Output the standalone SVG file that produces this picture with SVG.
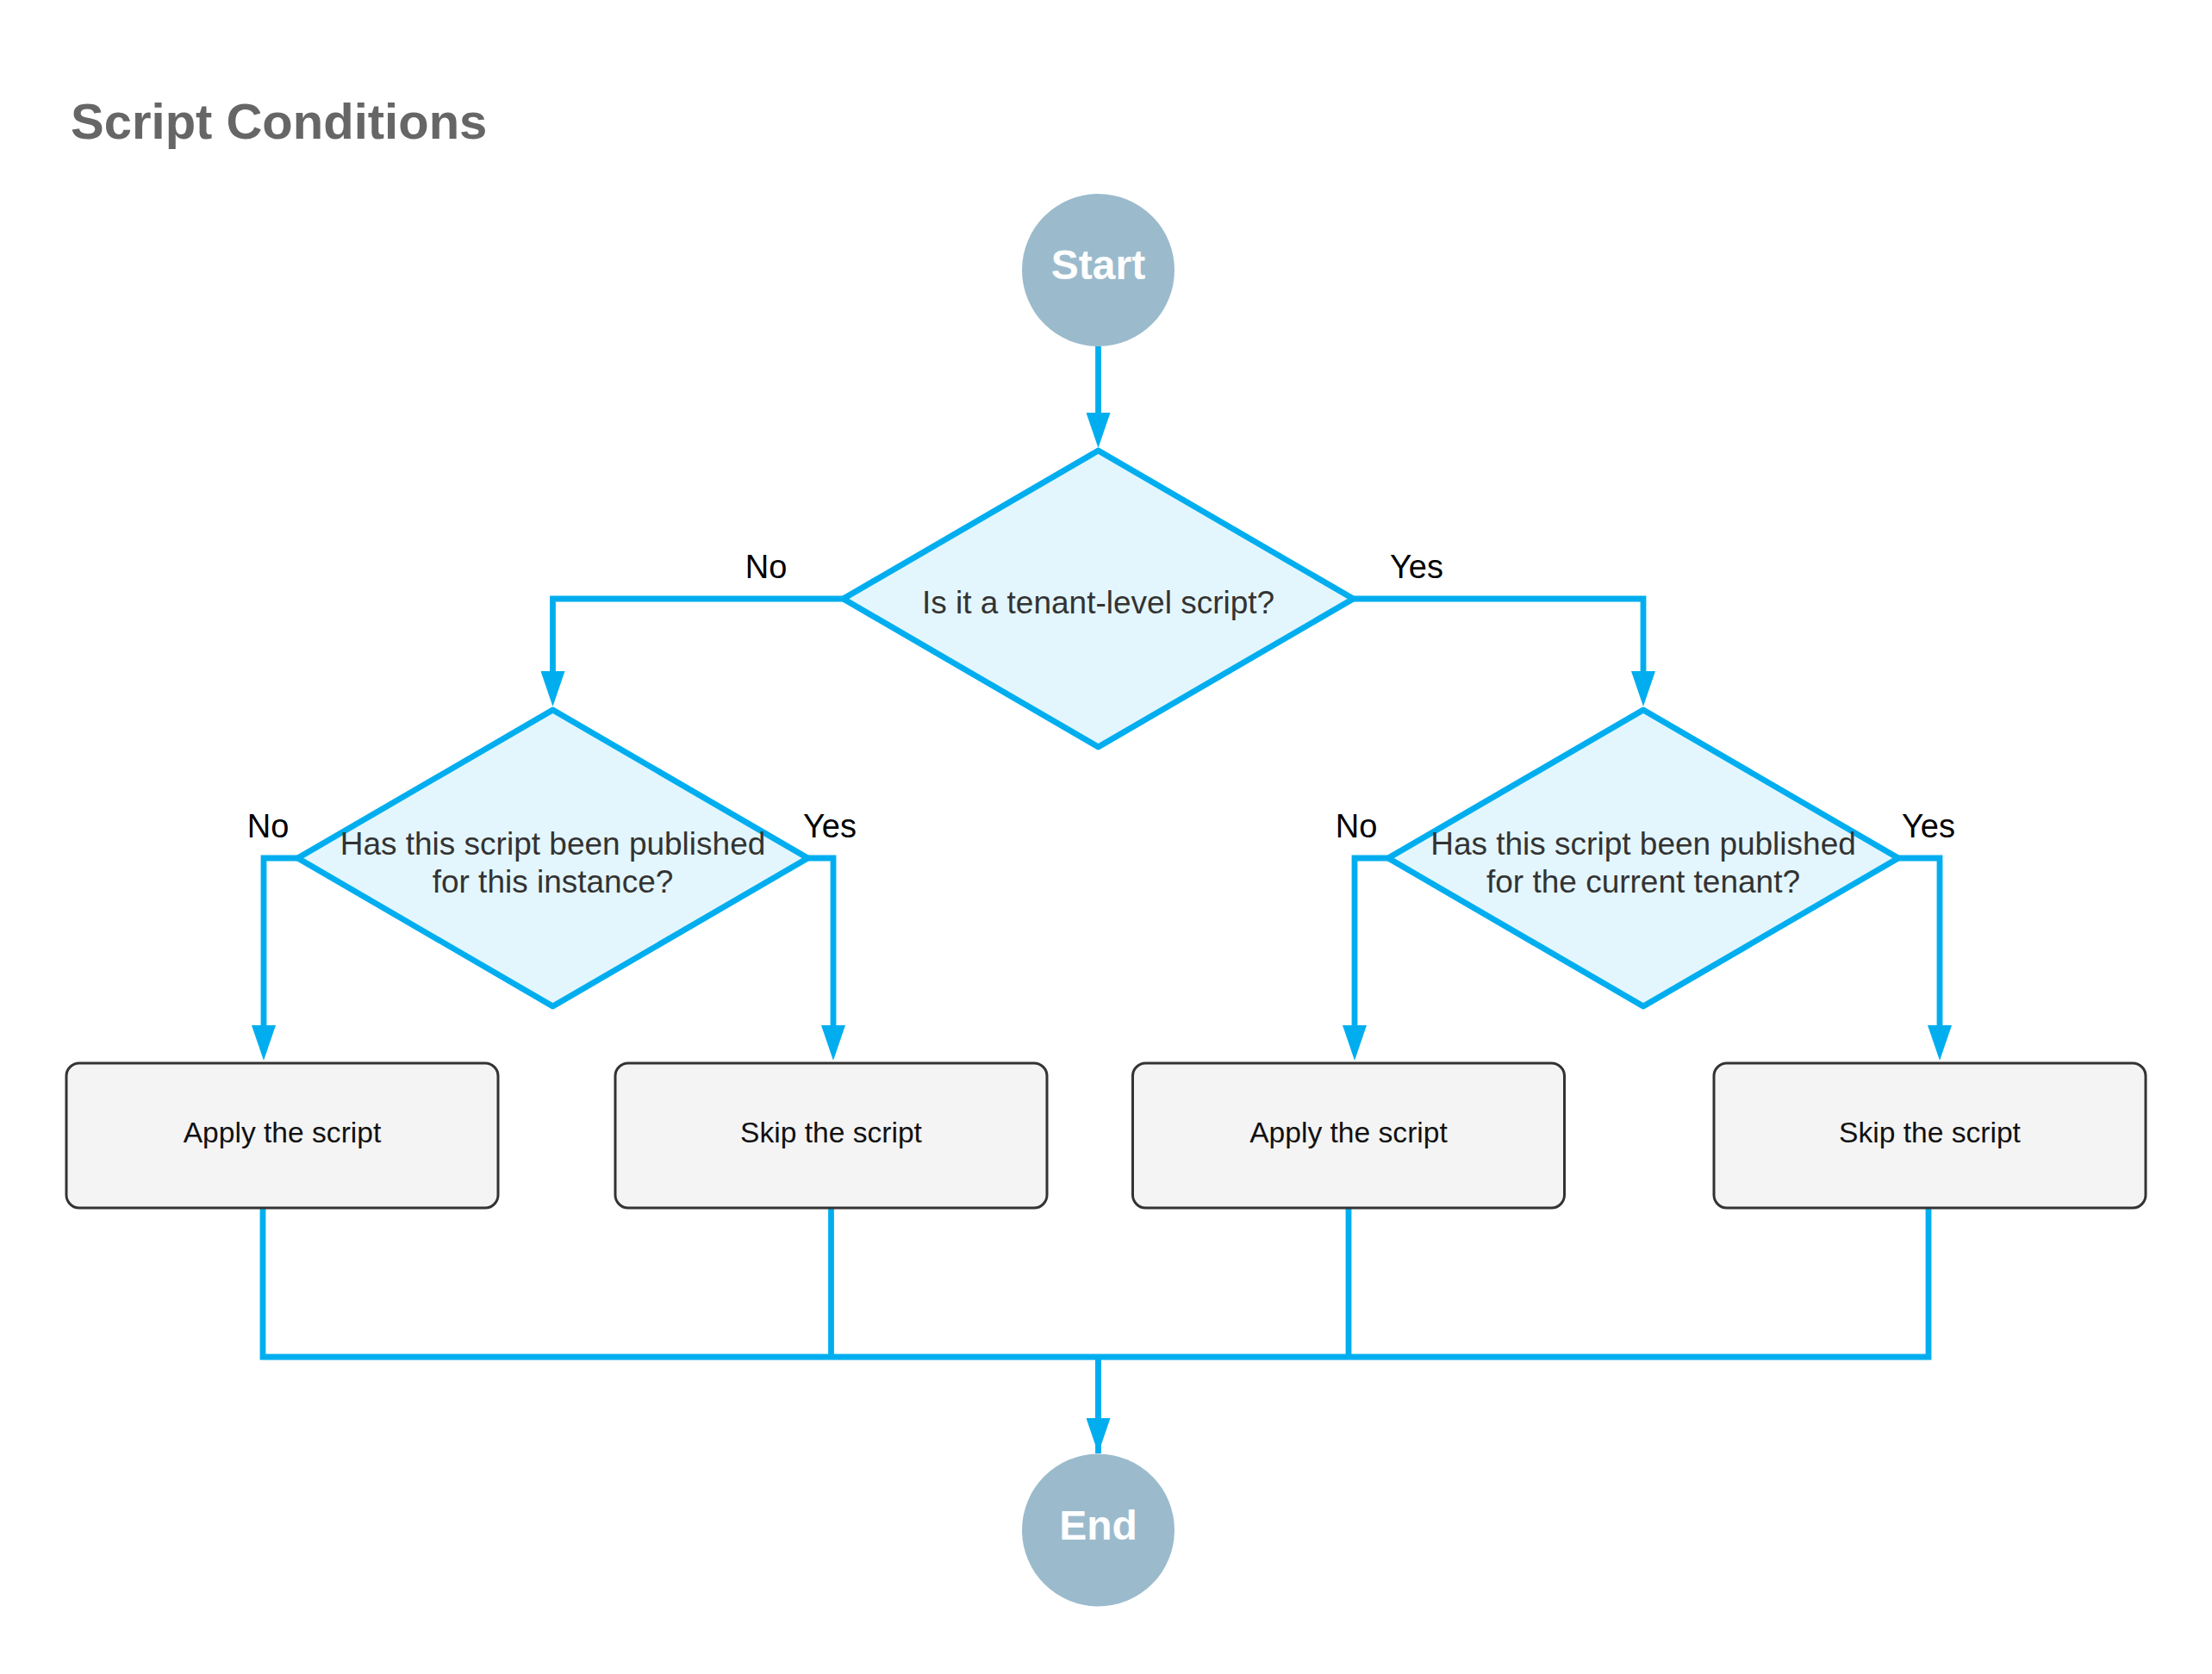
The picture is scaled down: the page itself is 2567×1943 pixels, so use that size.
<svg xmlns="http://www.w3.org/2000/svg" width="2567" height="1943" viewBox="0 0 2567 1943">
<style>
.bg{fill:#ffffff}
.title{font-family:"Liberation Sans",Arial,sans-serif;font-weight:bold;font-size:58px;fill:#666666}
.term{fill:#9bbbcd;stroke:none}
.termtxt{font-family:"Liberation Sans",Arial,sans-serif;font-weight:bold;font-size:48px;fill:#ffffff;text-anchor:middle}
.dia{fill:#e3f6fd;stroke:#00aeef;stroke-width:6.8;stroke-linejoin:round}
.diatxt{font-family:"Liberation Sans",Arial,sans-serif;font-size:37px;fill:#333333;text-anchor:middle}
.box{fill:#f4f4f4;stroke:#333333;stroke-width:3}
.boxtxt{font-family:"Liberation Sans",Arial,sans-serif;font-size:33.6px;fill:#111111;text-anchor:middle}
.conn{fill:none;stroke:#00aeef;stroke-width:6.8;stroke-linejoin:miter}
.lbl{font-family:"Liberation Sans",Arial,sans-serif;font-size:38px;fill:#000000;text-anchor:middle}
</style>
<defs>
<marker id="arrow" markerUnits="userSpaceOnUse" markerWidth="42" markerHeight="28" refX="11" refY="14" orient="auto" viewBox="0 0 42 28">
<path d="M0,0 L41,14 L0,28 z" fill="#00aeef"/>
</marker>
</defs>
<rect class="bg" x="0" y="0" width="2567" height="1943"/>
<text class="title" x="82" y="161">Script Conditions</text>

<g id="connectors">
<path class="conn" d="M1274.5,402 L1274.5,490" marker-end="url(#arrow)"/>
<path class="conn" d="M978.5,695 L641.5,695 L641.5,790" marker-end="url(#arrow)"/>
<path class="conn" d="M1570.5,695 L1907,695 L1907,790" marker-end="url(#arrow)"/>
<path class="conn" d="M345.5,996 L306,996 L306,1201" marker-end="url(#arrow)"/>
<path class="conn" d="M937.5,996 L967,996 L967,1201" marker-end="url(#arrow)"/>
<path class="conn" d="M1611,996 L1572,996 L1572,1201" marker-end="url(#arrow)"/>
<path class="conn" d="M2203,996 L2251,996 L2251,1201" marker-end="url(#arrow)"/>
<path class="conn" d="M305,1403 L305,1575 L2238,1575 L2238,1403"/>
<path class="conn" d="M964.5,1403 L964.5,1575"/>
<path class="conn" d="M1565,1403 L1565,1575"/>
<path class="conn" d="M1274.5,1575 L1274.5,1687"/>
<path class="conn" d="M1274.5,1575 L1274.5,1657" marker-end="url(#arrow)"/>
<text class="lbl" x="889" y="671">No</text>
<text class="lbl" x="1644" y="671">Yes</text>
<text class="lbl" x="311" y="972">No</text>
<text class="lbl" x="963" y="972">Yes</text>
<text class="lbl" x="1574" y="972">No</text>
<text class="lbl" x="2238" y="972">Yes</text>
</g>

<g id="start">
<circle class="term" cx="1274.5" cy="313.5" r="88.5"/>
<text class="termtxt" x="1274.5" y="324">Start</text>
</g>

<g id="q-tenant-level">
<polygon class="dia" points="1274.5,523 1570.5,695 1274.5,867 978.5,695"/>
<text class="diatxt" x="1274.5" y="712">Is it a tenant-level script?</text>
</g>

<g id="q-instance">
<polygon class="dia" points="641.5,824 937.5,996 641.5,1168 345.5,996"/>
<text class="diatxt" x="641.5" y="992">Has this script been published</text>
<text class="diatxt" x="641.5" y="1036">for this instance?</text>
</g>

<g id="q-tenant">
<polygon class="dia" points="1907,824 2203,996 1907,1168 1611,996"/>
<text class="diatxt" x="1907" y="992">Has this script been published</text>
<text class="diatxt" x="1907" y="1036">for the current tenant?</text>
</g>

<g id="apply-1">
<rect class="box" x="77" y="1234" width="501" height="168" rx="15" ry="15"/>
<text class="boxtxt" x="327.5" y="1326">Apply the script</text>
</g>

<g id="skip-1">
<rect class="box" x="714" y="1234" width="501" height="168" rx="15" ry="15"/>
<text class="boxtxt" x="964.5" y="1326">Skip the script</text>
</g>

<g id="apply-2">
<rect class="box" x="1314.5" y="1234" width="501" height="168" rx="15" ry="15"/>
<text class="boxtxt" x="1565" y="1326">Apply the script</text>
</g>

<g id="skip-2">
<rect class="box" x="1989" y="1234" width="501" height="168" rx="15" ry="15"/>
<text class="boxtxt" x="2239.5" y="1326">Skip the script</text>
</g>

<g id="end">
<circle class="term" cx="1274.5" cy="1776" r="88.5"/>
<text class="termtxt" x="1274.5" y="1787">End</text>
</g>
</svg>
